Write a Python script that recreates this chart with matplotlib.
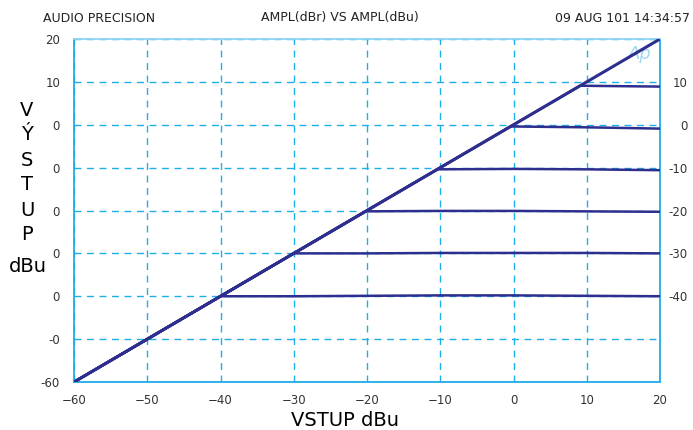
import matplotlib
matplotlib.use("Agg")
import matplotlib.pyplot as plt

# input level (dBu) and measured output for each clip setting
x_diag = [-60, -50, -40, -30, -20, -10, 0, 10, 20]
y_diag = [-60, -50, -40, -30, -20, -10, 0, 10, 20]

curves = [
    ([-60, -40, -30, -20, -10, 0, 10, 20], [-60, -40, -40, -39.9, -39.8, -39.8, -39.9, -40]),
    ([-60, -30, -20, -10, 0, 10, 20], [-60, -30, -30, -29.9, -29.9, -29.9, -30]),
    ([-60, -20.2, -10, 0, 10, 20], [-60, -20.2, -20.1, -20.1, -20.2, -20.3]),
    ([-60, -10.4, 0, 10, 20], [-60, -10.4, -10.3, -10.4, -10.6]),
    ([-60, -0.4, 10, 20], [-60, -0.4, -0.6, -0.9]),
    ([-60, 9.1, 20], [-60, 9.1, 8.9]),
]

x_ticks = [-60, -50, -40, -30, -20, -10, 0, 10, 20]
y_ticks = [20, 10, 0, -10, -20, -30, -40, -50, -60]
y_left_labels = ["20", "10", "0", "0", "0", "0", "0", "-0", "-60"]
y_right_ticks = [10, 0, -10, -20, -30, -40]

line_col = "#2e2e8e"
grid_col = "#1eaee8"

fig = plt.figure(figsize=(6.93, 4.30), dpi=100)
ax = fig.add_axes([74 / 693, 1 - 382 / 430, 586 / 693, 343 / 430])

ax.plot(x_diag, y_diag, color=line_col, lw=2.2, zorder=3)
for xs, ys in curves:
    ax.plot(xs, ys, color=line_col, lw=1.8, zorder=3)

ax.set_xlim(-60, 20)
ax.set_ylim(-60, 20)
ax.set_xticks(x_ticks)
ax.set_yticks(y_ticks)
ax.set_yticklabels(y_left_labels)
ax.grid(True, color=grid_col, ls=(0, (5, 4)), lw=1)
ax.tick_params(axis="both", length=0, labelsize=8.5, labelcolor="#333333")
ax.tick_params(axis="x", pad=9)
ax.tick_params(axis="y", pad=10)
for s in ax.spines.values():
    s.set_color(grid_col)
    s.set_linewidth(1.3)
ax.spines["top"].set_color("#8fd4f2")

ax2 = ax.twinx()
ax2.set_ylim(-60, 20)
ax2.set_yticks(y_right_ticks)
ax2.set_yticklabels([str(v) for v in y_right_ticks], ha="right")
ax2.tick_params(axis="y", length=0, labelsize=8.5, labelcolor="#333333", pad=20)
for s in ax2.spines.values():
    s.set_visible(False)

ax.text(0.965, 0.955, "Ap", transform=ax.transAxes, fontsize=13, style="italic",
        color="#9fd8f4", ha="center", va="center", zorder=1)

fig.text(43 / 693, 1 - 18 / 430, "AUDIO PRECISION", fontsize=9, color="#222222", va="center")
fig.text(340 / 693, 1 - 18 / 430, "AMPL(dBr) VS AMPL(dBu)", fontsize=9, color="#222222",
         va="center", ha="center")
fig.text(690 / 693, 1 - 18 / 430, "09 AUG 101 14:34:57", fontsize=9, color="#222222",
         va="center", ha="right")

for i, ch in enumerate(["V", "Ý", "S", "T", "U", "P"]):
    fig.text(27 / 693, 1 - (110 + i * 25) / 430, ch, fontsize=14, ha="center", va="center")
fig.text(28 / 693, 1 - 266 / 430, "dBu", fontsize=14, ha="center", va="center")
fig.text(345 / 693, 1 - 421 / 430, "VSTUP dBu", fontsize=14, ha="center", va="center")

fig.savefig("out.png", dpi=100)
